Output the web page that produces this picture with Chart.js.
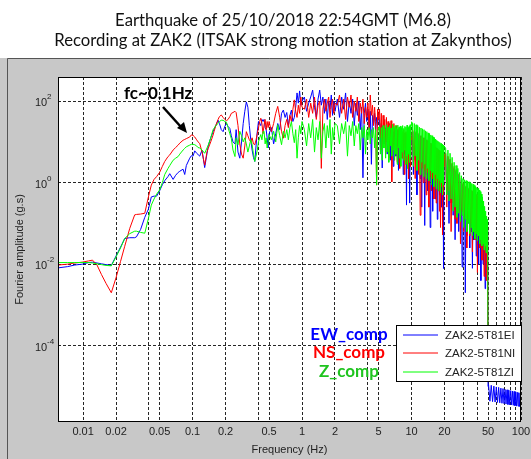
<!DOCTYPE html>
<html>
<head>
<meta charset="utf-8">
<title>ZAK2 Fourier spectra</title>
<script src="https://cdn.jsdelivr.net/npm/chart.js@4.4.0/dist/chart.umd.min.js"></script>
<style>
  html, body { margin: 0; padding: 0; background: #fff; }
  canvas { display: block; }
</style>
</head>
<body>
<canvas id="spectrum-chart" width="531" height="459"></canvas>
<script>
// frequency bins (Hz) shared by the three components
const freqHz = [
  0.0059, 0.0072, 0.0084, 0.0098, 0.0112, 0.0122, 0.0134, 0.0147, 0.0162, 0.0181,
  0.0200, 0.0220, 0.0240, 0.0267, 0.0296, 0.0307, 0.0335, 0.0366, 0.0395, 0.0420,
  0.0445, 0.0470, 0.0500, 0.0530, 0.0557, 0.0597, 0.0619, 0.0664, 0.0700, 0.0738,
  0.0764, 0.0819, 0.0848, 0.0877, 0.0942, 0.0975, 0.1010, 0.1047, 0.1090, 0.1122,
  0.1163, 0.1220, 0.1290, 0.1355, 0.1390, 0.1465, 0.1540, 0.1570, 0.1630, 0.1710,
  0.1760, 0.1830, 0.1900, 0.1970, 0.2040, 0.2110, 0.2190, 0.2260, 0.2340, 0.2440,
  0.25, 0.26, 0.27, 0.28, 0.29, 0.30, 0.31, 0.32, 0.33, 0.34, 0.35, 0.36, 0.37,
  0.38, 0.39, 0.40, 0.41, 0.42, 0.43, 0.44, 0.45, 0.46, 0.47, 0.48, 0.49, 0.50,
  0.525, 0.55, 0.575, 0.60, 0.625, 0.65, 0.675, 0.70, 0.725, 0.75,
  0.775, 0.80, 0.825, 0.85, 0.875, 0.90, 0.925, 0.95, 0.975, 1.00,
  1.05, 1.10, 1.15, 1.20, 1.25, 1.30, 1.35, 1.40, 1.45, 1.50,
  1.55, 1.60, 1.65, 1.70, 1.75, 1.80, 1.85, 1.90, 1.95, 2.00,
  2.1, 2.2, 2.3, 2.4, 2.5, 2.6, 2.7, 2.8, 2.9, 3.0, 3.1, 3.2, 3.3, 3.4, 3.5,
  3.6, 3.7, 3.8, 3.9, 4.0, 4.1, 4.2, 4.3, 4.4, 4.5, 4.6, 4.7, 4.8, 4.9, 5.0,
  5.1, 5.2, 5.3, 5.4, 5.5, 5.6, 5.7, 5.8, 5.9, 6.0,
  6.1, 6.2, 6.3, 6.4, 6.5, 6.6, 6.7, 6.8, 6.9, 7.0,
  7.1, 7.2, 7.3, 7.4, 7.5, 7.6, 7.7, 7.8, 7.9, 8.0,
  8.1, 8.2, 8.3, 8.4, 8.5, 8.6, 8.7, 8.8, 8.9, 9.0,
  9.1, 9.2, 9.3, 9.4, 9.5, 9.6, 9.7, 9.8, 9.9, 10.0,
  10.2, 10.4, 10.6, 10.8, 11.0, 11.2, 11.4, 11.6, 11.8, 12.0,
  12.2, 12.4, 12.6, 12.8, 13.0, 13.2, 13.4, 13.6, 13.8, 14.0,
  14.2, 14.4, 14.6, 14.8, 15.0, 15.2, 15.4, 15.6, 15.8, 16.0,
  16.2, 16.4, 16.6, 16.8, 17.0, 17.2, 17.4, 17.6, 17.8, 18.0,
  18.2, 18.4, 18.6, 18.8, 19.0, 19.2, 19.4, 19.6, 19.8, 20.0,
  20.5, 21, 21.5, 22, 22.5, 23, 23.5, 24, 24.5, 25,
  25.5, 26, 26.5, 27, 27.5, 28, 28.5, 29, 29.5, 30,
  30.5, 31, 31.5, 32, 32.5, 33, 33.5, 34, 34.5, 35,
  35.5, 36, 36.5, 37, 37.5, 38, 38.5, 39, 39.5, 40,
  40.5, 41, 41.5, 42, 42.5, 43, 43.5, 44, 44.5, 45,
  45.5, 46, 46.5, 47, 47.5, 48, 48.5, 49, 49.5, 50
];

// log10 of Fourier amplitude (g.s)
const ewLog = [
  -2.09, -2.06, -2.02, -2.00, -1.96, -1.95, -1.97, -1.99, -2.01, -2.03,
  -1.80, -1.58, -1.37, -1.35, -1.35, -1.33, -1.15, -0.85, -0.65, -0.35,
  -0.33, -0.33, -0.20, -0.05, 0.05, 0.15, 0.22, 0.08, 0.18, 0.25,
  0.28, 0.33, 0.20, 0.42, 0.60, 0.66, 0.65, 0.78, 0.72, 0.69,
  0.65, 0.80, 0.37, 0.72, 0.90, 1.10, 1.25, 1.31, 1.40, 1.53,
  1.45, 1.30, 1.25, 1.38, 1.45, 1.38, 1.33, 1.15, 1.00, 0.95,
  1.30, 0.75, 0.60, 1.00, 1.45, 1.75, 1.98, 1.85, 1.40, 1.05, 0.80, 0.62, 0.52,
  0.90, 1.25, 1.50, 1.45, 1.40, 1.55, 1.50, 1.55, 1.35, 1.30, 1.10, 0.85, 1.20,
  1.35, 0.95, 1.20, 1.45, 1.30, 1.70, 1.78, 1.60, 1.72, 1.40,
  1.65, 1.78, 1.50, 1.60, 1.85, 2.20, 1.95, 2.25, 1.90, 2.00,
  2.10, 1.75, 1.95, 2.10, 2.27, 1.85, 1.60, 2.05, 2.27, 1.90,
  2.10, 1.70, 2.05, 1.55, 2.00, 1.80, 2.15, 1.65, 2.00, 1.75,
  2.05, 1.60, 2.10, 1.80, 2.20, 1.50, 2.00, 1.70, 2.05, 1.40, 1.95, 1.65, 2.00, 1.30, 1.85,
  0.12, 1.70, 1.95, 1.50, 1.80, 1.35, 1.75, 0.45, 1.65, 1.45, 1.70, 1.25, 1.60, 1.40, 1.65,
  1.55, 0.80, 1.45, 0.36, 1.40, 0.95, 1.35, 1.00, 1.42, 0.70,
  1.30, 0.90, 1.38, 0.55, 1.28, 0.85, 1.35, 0.40, 1.25, 0.80,
  1.32, 0.65, 1.22, 0.90, 1.30, 0.30, 1.20, 0.75, 1.28, 0.60,
  1.18, 0.85, 1.25, 0.20, 1.15, 0.70, 1.22, 0.50, 1.12, -0.55,
  1.20, 0.65, 1.10, 0.40, 1.18, -0.50, 1.08, 0.55, 1.15, 0.95,
  1.28, 0.20, 1.25, 0.55, 1.22, -0.30, 1.20, 0.45, 1.17, 0.10,
  1.15, -0.60, 1.12, 0.35, 1.10, -1.05, 1.08, 0.20, 1.05, -0.20,
  1.02, 0.30, 1.00, -1.10, 0.97, 0.10, 0.95, -0.70, 0.92, 0.15,
  0.90, -0.40, 0.88, 0.05, 0.85, -0.90, 0.83, -0.10, 0.80, -0.30,
  0.78, 0.00, 0.76, -0.60, 0.74, -0.20, 0.72, -2.10, 0.70, 0.68,
  0.70, -0.30, 0.62, -1.00, 0.55, -0.50, 0.45, -0.80, 0.35, -1.40,
  0.28, -0.70, 0.20, -1.20, 0.10, -0.90, 0.02, -2.07, -0.05, -1.10,
  -0.08, -2.70, -0.10, -1.30, -0.12, -1.00, -0.15, -1.60, -0.17, -1.20,
  -0.20, -2.10, -0.22, -1.40, -0.25, -1.10, -0.28, -1.80, -0.30, -1.30,
  -0.33, -2.00, -0.37, -1.50, -0.42, -2.40, -0.48, -1.60, -0.55, -2.00,
  -0.65, -1.70, -0.78, -2.60, -0.90, -1.80, -1.00, -2.20, -1.10, -5.00
];
const nsLog = [
  -2.02, -2.00, -1.97, -1.95, -1.92, -1.90, -2.02, -2.25, -2.47, -2.70,
  -2.33, -1.93, -1.56, -1.12, -0.79, -0.78, -0.77, -0.75, -0.35, -0.06,
  0.08, 0.15, 0.25, 0.40, 0.52, 0.64, 0.68, 0.80, 0.86, 0.92,
  0.97, 1.04, 1.06, 1.08, 1.12, 1.17, 1.16, 1.12, 1.05, 1.00,
  0.96, 0.75, 0.43, 0.75, 0.84, 1.00, 1.17, 1.25, 1.40, 1.55,
  1.62, 1.66, 1.60, 1.55, 1.52, 1.55, 1.62, 1.70, 1.72, 1.75,
  1.72, 1.40, 0.95, 0.70, 0.60, 0.90, 1.25, 1.15, 1.05, 1.00, 1.10, 0.95, 0.93,
  1.05, 1.20, 1.34, 1.50, 1.58, 1.45, 1.20, 1.42, 1.55, 1.30, 1.50, 1.35, 1.50,
  1.25, 1.45, 1.70, 1.87, 1.60, 1.25, 1.09, 1.40, 1.55, 1.35,
  1.65, 1.50, 1.80, 2.03, 1.75, 1.60, 1.90, 1.70, 2.10, 1.85,
  1.80, 2.05, 1.60, 1.95, 1.70, 2.10, 1.55, 1.90, 2.00, 0.35,
  1.80, 2.05, 1.75, 1.95, 2.10, 1.60, 1.90, 2.05, 1.70, 1.95,
  1.90, 2.15, 1.70, 2.05, 1.55, 2.10, 1.85, 2.15, 1.60, 2.00, 1.75, 2.10, 1.50, 1.95, 1.70,
  2.05, 1.45, 1.85, 1.60, 1.95, 1.30, 2.15, 1.65, 1.90, 1.40, 1.85, 1.50, -0.06, 1.80, 1.55,
  1.80, 1.10, 1.70, 0.80, 1.65, 1.20, 1.55, 0.70, 1.60, 1.00,
  1.50, 0.60, 1.45, 1.05, 1.52, 0.02, 1.40, 0.90, 1.45, 0.55,
  1.35, 1.00, 1.40, 0.50, 1.30, 0.85, 1.35, 0.35, 1.28, 0.95,
  1.32, 0.60, 1.25, 0.80, 1.30, 0.20, 1.22, 0.75, 1.25, 0.45,
  1.18, 0.85, 1.22, 0.10, 1.15, 0.70, 1.20, 0.40, 1.10, 1.05,
  1.30, 0.50, 1.28, 0.10, 1.25, 0.40, 1.22, 0.20, 1.18, -0.80,
  1.15, 0.35, 1.12, 0.00, 1.10, 0.30, 1.07, -0.30, 1.05, 0.25,
  1.02, -0.60, 1.00, 0.15, 0.97, -0.20, 0.95, 0.10, 0.92, -0.40,
  0.90, 0.05, 0.87, -0.50, 0.85, 0.00, 0.82, -0.20, 0.80, -0.70,
  0.78, -1.10, 0.76, -0.10, 0.74, -1.28, 0.72, -0.30, 0.70, 0.40,
  0.72, -0.60, 0.65, -0.20, 0.58, -1.20, 0.48, -0.50, 0.40, -0.90,
  0.32, -1.00, 0.22, -0.40, 0.12, -1.50, 0.05, -0.70, -0.02, -1.20,
  -0.06, -0.80, -0.09, -1.60, -0.11, -0.90, -0.14, -1.30, -0.16, -1.00,
  -0.19, -1.70, -0.21, -1.10, -0.24, -1.40, -0.27, -1.20, -0.29, -2.20,
  -0.32, -1.30, -0.36, -1.60, -0.41, -1.40, -0.47, -1.90, -0.54, -1.50,
  -0.64, -2.30, -0.76, -1.60, -0.88, -2.40, -0.98, -1.80, -1.08, -4.50
];
const zLog = [
  -1.96, -1.96, -1.96, -1.96, -1.96, -1.97, -1.99, -2.01, -2.03, -2.04,
  -1.82, -1.60, -1.37, -1.25, -1.19, -1.19, -1.22, -1.24, -0.88, -0.55,
  -0.40, -0.28, -0.18, 0.00, 0.20, 0.35, 0.42, 0.55, 0.60, 0.64,
  0.70, 0.80, 0.84, 0.88, 0.92, 0.94, 0.94, 0.93, 0.90, 0.86,
  0.85, 0.80, 0.72, 0.85, 0.92, 1.10, 1.30, 1.33, 1.40, 1.45,
  1.50, 1.53, 1.53, 1.50, 1.48, 1.35, 1.20, 1.08, 0.80, 0.64,
  1.10, 0.93, 1.26, 1.15, 1.00, 1.10, 0.95, 0.75, 0.90, 1.05, 0.93, 0.70, 0.52,
  0.65, 0.80, 1.00, 1.10, 1.18, 1.05, 1.25, 1.26, 0.95, 1.10, 0.85, 1.00, 1.18,
  1.05, 1.26, 1.00, 1.42, 1.15, 0.93, 1.26, 1.10, 1.30, 1.05,
  1.35, 1.50, 1.20, 0.98, 1.30, 0.60, 1.10, 1.40, 1.20, 1.50,
  1.30, 0.90, 1.45, 1.10, 1.55, 0.75, 1.35, 1.05, 1.50, 0.60,
  1.25, 1.45, 0.85, 1.40, 1.10, 1.55, 0.70, 1.35, 1.05, 1.45,
  1.40, 0.95, 1.45, 1.20, 1.50, 0.65, 1.40, 1.15, 1.50, 0.90, 1.40, 1.20, 1.45, 0.80, 1.35,
  1.10, 1.40, 0.70, 1.30, 1.05, 1.35, 0.95, 1.30, 1.10, 1.35, 0.85, 1.30, -0.06, 1.20, 1.35,
  1.38, 0.70, 1.35, 0.55, 1.40, 0.85, 1.32, 0.60, 1.42, 0.75,
  1.36, 0.50, 1.40, 0.90, 1.34, 0.65, 1.43, 0.80, 1.37, 0.55,
  1.40, 0.70, 1.33, 0.45, 1.41, 0.85, 1.36, 0.60, 1.39, 0.40,
  1.35, 0.75, 1.40, 0.55, 1.33, 0.80, 1.38, 0.45, 1.36, 0.65,
  1.41, 0.35, 1.35, 0.70, 1.38, 0.50, 1.42, 0.60, 1.40, 1.49,
  1.47, 0.40, 1.45, 0.65, 1.42, 0.30, 1.40, 0.55, 1.36, 0.20,
  1.34, 0.50, 1.32, 0.15, 1.30, 0.45, 1.27, 0.10, 1.25, 0.35,
  1.22, 0.05, 1.20, 0.30, 1.17, -0.05, 1.15, 0.25, 1.12, -0.10,
  1.10, 0.20, 1.07, -0.15, 1.04, 0.10, 1.02, -0.20, 1.00, 0.05,
  0.98, -0.25, 0.96, 0.00, 0.94, -0.30, 0.92, -0.05, 0.90, 0.88,
  0.85, -0.30, 0.80, -0.45, 0.72, -0.40, 0.62, -0.70, 0.50, -0.60,
  0.42, -0.85, 0.35, -0.75, 0.25, -0.95, 0.17, -0.80, 0.10, -1.10,
  0.07, -0.90, 0.05, -1.20, 0.04, -1.00, 0.02, -1.25, 0.00, -1.10,
  -0.02, -1.30, -0.04, -1.20, -0.07, -1.38, -0.10, -1.25, -0.12, -1.42,
  -0.14, -1.30, -0.18, -1.50, -0.22, -1.40, -0.28, -1.55, -0.35, -1.50,
  -0.45, -1.65, -0.58, -1.55, -0.70, -1.72, -0.82, -1.65, -0.90, -4.50
];

// EW component above 50 Hz (noise band)
const ewTailFreqHz = [
  50.5, 52, 53.5, 55, 56.5, 58, 59.5, 61, 62.5, 64, 65.5, 67, 68.5, 70, 71.5, 73, 74.5,
  76, 77.5, 79, 80.5, 82, 83.5, 85, 86.5, 88, 89.5, 91, 92.5, 94, 95.5, 97, 98.5, 100
];
const ewTailLog = [
  -4.95, -5.36, -4.97, -5.37, -4.99, -5.38, -5.01, -5.39, -5.02, -5.40, -5.04, -5.41, -5.05, -5.42, -5.07, -5.43, -5.08,
  -5.44, -5.09, -5.45, -5.10, -5.45, -5.11, -5.46, -5.12, -5.47, -5.13, -5.48, -5.14, -5.48, -5.15, -5.49, -5.16, -5.50
];

const xTickLabels = [0.01, 0.02, 0.05, 0.1, 0.2, 0.5, 1, 2, 5, 10, 20, 50, 100];
const xGridHz = [0.01, 0.02, 0.04, 0.05, 0.1, 0.2, 0.4, 0.5, 1, 2, 4, 5, 10, 20, 30, 40, 50, 60, 70, 80, 90, 100];
const yTickExponents = [-4, -2, 0, 2];

const seriesLabels = ['ZAK2-5T81EI', 'ZAK2-5T81NI', 'ZAK2-5T81ZI'];
const compLabels = ['EW_comp', 'NS_comp', 'Z_comp'];
const titleLines = [
  'Earthquake of 25/10/2018 22:54GMT (M6.8)',
  'Recording at ZAK2 (ITSAK strong motion station at Zakynthos)'
];

const lineColors = ['#0000ff', '#ff0000', '#00ff00'];
const compColors = ['#0000ff', '#ff0000', '#1fc41f'];
const axisFont = '"Liberation Sans", Arial, sans-serif';
const noteFont = 'Lato, "Open Sans", sans-serif';

const toPoints = (fs, logs) => fs.map((f, i) => ({ x: f, y: Math.pow(10, logs[i]) }));

const ewPoints = toPoints(freqHz, ewLog).concat(toPoints(ewTailFreqHz, ewTailLog));
const nsPoints = toPoints(freqHz, nsLog);
const zPoints = toPoints(freqHz, zLog);

// grey figure, title, box, annotations and legend
const figurePlugin = {
  id: 'figure',
  beforeDraw(chart) {
    const { ctx, chartArea: a, width, height } = chart;
    ctx.save();
    ctx.fillStyle = '#fff';
    ctx.fillRect(0, 0, width, height);
    ctx.fillStyle = '#c8c8c8';
    ctx.fillRect(0, 58, width, height - 58);
    ctx.strokeStyle = '#555';
    ctx.lineWidth = 1;
    ctx.beginPath();
    ctx.moveTo(7.5, height);
    ctx.lineTo(7.5, 58.5);
    ctx.lineTo(width, 58.5);
    ctx.stroke();
    ctx.fillStyle = '#fff';
    ctx.fillRect(a.left, a.top, a.right - a.left, a.bottom - a.top);

    ctx.fillStyle = '#111';
    ctx.font = '16.7px ' + noteFont;
    ctx.textAlign = 'center';
    ctx.textBaseline = 'alphabetic';
    ctx.fillText(titleLines[0], 283, 26);
    ctx.fillText(titleLines[1], 283, 46);
    ctx.restore();
  },
  afterDatasetsDraw(chart) {
    const { ctx, chartArea: a, scales } = chart;
    ctx.save();

    // axes box
    ctx.strokeStyle = '#000';
    ctx.lineWidth = 1;
    ctx.strokeRect(a.left + 0.5, a.top + 0.5, a.right - a.left - 1, a.bottom - a.top - 1);

    // y tick labels as 10^n
    ctx.fillStyle = '#222';
    ctx.textAlign = 'left';
    ctx.textBaseline = 'middle';
    yTickExponents.forEach(e => {
      const py = scales.y.getPixelForValue(Math.pow(10, e));
      ctx.font = '11px ' + axisFont;
      ctx.fillText('10', 35, py + 2);
      ctx.font = '8px ' + axisFont;
      ctx.fillText(String(e), 47, py - 4);
    });

    // corner frequency note and arrow
    ctx.fillStyle = '#000';
    ctx.font = 'bold 17px ' + noteFont;
    ctx.textBaseline = 'alphabetic';
    ctx.fillText('fc~0.1Hz', 124, 99);
    ctx.strokeStyle = '#000';
    ctx.lineWidth = 2.5;
    ctx.beginPath();
    ctx.moveTo(163, 107);
    ctx.lineTo(181, 127);
    ctx.stroke();
    ctx.beginPath();
    ctx.moveTo(187, 133);
    ctx.lineTo(177, 128);
    ctx.lineTo(184, 122);
    ctx.closePath();
    ctx.fill();

    // component labels
    ctx.font = 'bold 17px ' + noteFont;
    ctx.textAlign = 'center';
    ctx.textBaseline = 'middle';
    const rowY = [335, 353, 372];
    compLabels.forEach((t, i) => {
      ctx.fillStyle = compColors[i];
      ctx.fillText(t, 349, rowY[i]);
    });

    // legend
    ctx.fillStyle = '#fff';
    ctx.fillRect(396, 325, 126, 57);
    ctx.strokeStyle = '#000';
    ctx.lineWidth = 1;
    ctx.strokeRect(396.5, 325.5, 125, 56);
    ctx.font = '11.5px ' + axisFont;
    ctx.textAlign = 'left';
    seriesLabels.forEach((t, i) => {
      ctx.strokeStyle = lineColors[i];
      ctx.beginPath();
      ctx.moveTo(403, rowY[i]);
      ctx.lineTo(438, rowY[i]);
      ctx.stroke();
      ctx.fillStyle = '#222';
      ctx.fillText(t, 445, rowY[i] + 1);
    });
    ctx.restore();
  }
};

const gridOpts = { color: 'rgba(0,0,0,0.85)', lineWidth: 1, drawTicks: false };
const borderOpts = { display: false, dash: [3, 2] };

const config = {
  type: 'line',
  data: {
    datasets: [
      { label: seriesLabels[0], data: ewPoints, borderColor: lineColors[0], order: 3 },
      { label: seriesLabels[1], data: nsPoints, borderColor: lineColors[1], order: 2 },
      { label: seriesLabels[2], data: zPoints, borderColor: lineColors[2], order: 1 }
    ]
  },
  options: {
    responsive: false,
    animation: false,
    events: [],
    devicePixelRatio: 1,
    layout: { padding: { top: 77, left: 0, right: 10, bottom: 0 } },
    elements: {
      line: { borderWidth: 1, tension: 0, fill: false },
      point: { radius: 0 }
    },
    plugins: {
      legend: { display: false },
      tooltip: { enabled: false },
      title: { display: false }
    },
    scales: {
      x: {
        type: 'logarithmic',
        min: 0.0059,
        max: 100,
        afterBuildTicks: s => { s.ticks = xGridHz.map(v => ({ value: v })); },
        afterFit: s => { s.height = 37; s.paddingLeft = 0; s.paddingRight = 0; },
        grid: gridOpts,
        border: borderOpts,
        ticks: {
          autoSkip: false,
          maxRotation: 0,
          padding: 3,
          color: '#222',
          font: { family: axisFont, size: 11 },
          callback: v => xTickLabels.includes(v) ? String(v) : ''
        },
        title: {
          display: true,
          text: 'Frequency (Hz)',
          color: '#222',
          font: { family: axisFont, size: 11 },
          padding: { top: 0, bottom: 2 }
        }
      },
      y: {
        type: 'logarithmic',
        min: 1.35e-6,
        max: 390,
        afterBuildTicks: s => { s.ticks = yTickExponents.map(e => ({ value: Math.pow(10, e) })); },
        afterFit: s => { s.width = 58; },
        grid: gridOpts,
        border: borderOpts,
        ticks: { display: false },
        title: {
          display: true,
          text: 'Fourier amplitude (g.s)',
          color: '#222',
          font: { family: axisFont, size: 11 },
          padding: { top: 13, bottom: 0 }
        }
      }
    }
  },
  plugins: [figurePlugin]
};

const ctx = document.getElementById('spectrum-chart').getContext('2d');
new Chart(ctx, config);
</script>
</body>
</html>
